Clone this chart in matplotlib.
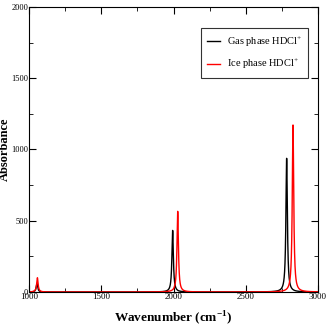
import numpy as np
import matplotlib
matplotlib.use("Agg")
import matplotlib.pyplot as plt

plt.rcParams['font.family'] = ['Liberation Serif', 'DejaVu Serif']
plt.rcParams['mathtext.fontset'] = 'custom'
plt.rcParams['mathtext.rm'] = 'Liberation Serif'
plt.rcParams['mathtext.bf'] = 'Liberation Serif:bold'

gas_centers = [1055, 1994, 2783]
gas_heights = [60, 432, 938]
ice_centers = [1058, 2029, 2827]
ice_heights = [100, 566, 1172]
gamma = 6.0

x = np.linspace(1000, 3000, 8001)

def spectrum(centers, heights):
    y = np.zeros_like(x)
    for c, h in zip(centers, heights):
        y += h * gamma**2 / ((x - c)**2 + gamma**2)
    return y

fig = plt.figure(figsize=(3.27, 3.27), dpi=100)
ax = fig.add_axes([29/327, 35/327, 289/327, 285/327])
ax.plot(x, spectrum(gas_centers, gas_heights), color='black', lw=1.0, label='Gas phase HDCl$^{+}$')
ax.plot(x, spectrum(ice_centers, ice_heights), color='red', lw=1.0, label='Ice phase HDCl$^{+}$')
ax.set_xlim(1000, 3000)
ax.set_ylim(0, 2000)
ax.set_xticks([1000, 1500, 2000, 2500, 3000])
ax.set_xticks([1250, 1750, 2250, 2750], minor=True)
ax.set_yticks([0, 500, 1000, 1500, 2000])
ax.set_yticks([250, 750, 1250, 1750], minor=True)
ax.tick_params(which='both', direction='in', top=True, right=True, labelsize=6.5, pad=1)
ax.tick_params(axis='y', which='both', labelsize=6, pad=0.5)
ax.tick_params(which='major', length=5)
ax.tick_params(which='minor', length=3)
for s in ax.spines.values():
    s.set_linewidth(0.8)
ax.set_xlabel('Wavenumber (cm$^{\\mathbf{-1}}$)', fontsize=9.5, fontweight='bold')
ax.xaxis.set_label_coords(0.5, -0.062)
ax.set_ylabel('Absorbance', fontsize=9, fontweight='bold')
ax.yaxis.set_label_coords(-0.062, 0.5)
leg = ax.legend(loc='upper right', bbox_to_anchor=(0.985, 0.945), fontsize=7.5, frameon=True,
                fancybox=False, edgecolor='black', handlelength=1.3, handletextpad=0.6,
                borderpad=0.6, labelspacing=0.8)
leg.get_frame().set_linewidth(0.8)
fig.savefig('out.png', dpi=100)
